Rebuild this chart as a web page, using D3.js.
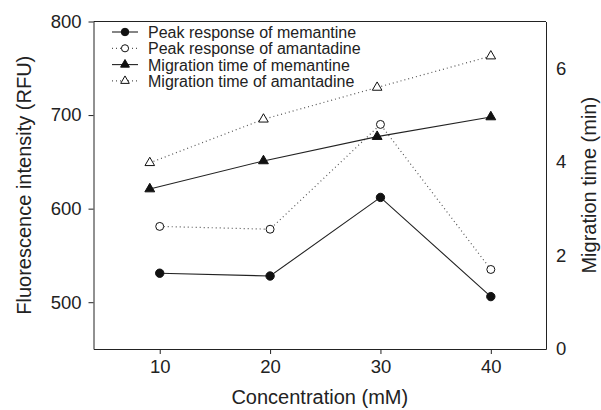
<!DOCTYPE html>
<html>
<head>
<meta charset="utf-8">
<script src="https://cdn.jsdelivr.net/npm/d3@7"></script>
<style>
  body { margin: 0; background: #fff; }
  svg text { font-family: "Liberation Sans", Arial, Helvetica, sans-serif; fill: #222; }
  .axis path, .axis line { stroke: #222; }
</style>
</head>
<body>
<script>
// concentrations (mM)
var conc = [10, 20, 30, 40];
// migration points sit a little left of the concentration ticks in the figure
var concMig = [9.1, 19.4, 29.7, 40];

var peakMemantine = [531, 528, 612, 506];   // RFU
var peakAmantadine = [581, 578, 690, 535];  // RFU
var migMemantine = [3.42, 4.02, 4.54, 4.96]; // min
var migAmantadine = [3.98, 4.91, 5.59, 6.26]; // min

var xTicks = [10, 20, 30, 40];
var yLeftTicks = [500, 600, 700, 800];
var yRightTicks = [0, 2, 4, 6];

var legendNames = [
    "Peak response of memantine",
    "Peak response of amantadine",
    "Migration time of memantine",
    "Migration time of amantadine"
];

var margin = {top: 21.5, right: 55, bottom: 61, left: 93.5};
var W = 601, H = 410;
var width = W - margin.left - margin.right;
var height = H - margin.top - margin.bottom;

var svg = d3.select("body").append("svg")
    .attr("width", W)
    .attr("height", H);

var g = svg.append("g")
    .attr("transform", "translate(" + margin.left + "," + margin.top + ")");

var x = d3.scaleLinear().domain([4, 45]).range([0, width]);
var yL = d3.scaleLinear().domain([450, 800]).range([height, 0]);
var yR = d3.scaleLinear().domain([0, 7]).range([height, 0]);

// axes
var xAxis = g.append("g").attr("class", "axis")
    .attr("transform", "translate(0," + height + ")")
    .call(d3.axisBottom(x).tickValues(xTicks).tickSize(5).tickPadding(6).tickSizeOuter(0));
xAxis.selectAll("text").style("font-size", "18.5px");

var yAxisL = g.append("g").attr("class", "axis")
    .call(d3.axisLeft(yL).tickValues(yLeftTicks).tickSize(5).tickPadding(7).tickSizeOuter(0));
yAxisL.selectAll("text").style("font-size", "18.5px");

var yAxisR = g.append("g").attr("class", "axis")
    .attr("transform", "translate(" + width + ",0)")
    .call(d3.axisRight(yR).tickValues(yRightTicks).tickFormat(d3.format("d"))
        .tickSize(0).tickPadding(10).tickSizeOuter(0));
yAxisR.selectAll("text").style("font-size", "18.5px");

// top border
g.append("line")
    .attr("x1", 0).attr("x2", width)
    .attr("y1", 0).attr("y2", 0)
    .attr("stroke", "#222");

// axis titles
svg.append("text")
    .attr("transform", "translate(31," + (margin.top + height / 2) + ") rotate(-90)")
    .attr("text-anchor", "middle")
    .style("font-size", "20px")
    .text("Fluorescence intensity (RFU)");

svg.append("text")
    .attr("transform", "translate(596," + (margin.top + height / 2) + ") rotate(-90)")
    .attr("text-anchor", "middle")
    .style("font-size", "20px")
    .text("Migration time (min)");

svg.append("text")
    .attr("x", margin.left + width / 2)
    .attr("y", 404)
    .attr("text-anchor", "middle")
    .style("font-size", "20px")
    .text("Concentration (mM)");

// series
var series = [
    {xs: conc, ys: peakMemantine, scale: yL, dash: null, shape: d3.symbolCircle, fill: "#111", size: 55},
    {xs: conc, ys: peakAmantadine, scale: yL, dash: "1,3", shape: d3.symbolCircle, fill: "#fff", size: 50},
    {xs: concMig, ys: migMemantine, scale: yR, dash: null, shape: d3.symbolTriangle, fill: "#111", size: 42},
    {xs: concMig, ys: migAmantadine, scale: yR, dash: "1,3", shape: d3.symbolTriangle, fill: "#fff", size: 40}
];

series.forEach(function(s, k) {
    var pts = s.xs.map(function(v, i) { return [x(v), s.scale(s.ys[i])]; });

    g.append("path")
        .datum(pts)
        .attr("fill", "none")
        .attr("stroke", s.dash ? "#555" : "#222")
        .attr("stroke-width", s.dash ? 1.2 : 1.1)
        .attr("stroke-dasharray", s.dash)
        .attr("d", d3.line());

    g.selectAll(".m" + k)
        .data(pts)
        .enter().append("path")
        .attr("class", "m" + k)
        .attr("transform", function(d) { return "translate(" + d[0] + "," + d[1] + ")"; })
        .attr("d", d3.symbol().type(s.shape).size(s.size))
        .attr("fill", s.fill)
        .attr("stroke", "#111")
        .attr("stroke-width", 1);
});

// legend
var legend = svg.append("g");
series.forEach(function(s, k) {
    var ly = 32 + k * 16.3;
    legend.append("line")
        .attr("x1", 112).attr("x2", 138)
        .attr("y1", ly).attr("y2", ly)
        .attr("stroke", s.dash ? "#555" : "#222")
        .attr("stroke-width", s.dash ? 1.2 : 1.1)
        .attr("stroke-dasharray", s.dash);
    legend.append("path")
        .attr("transform", "translate(125," + ly + ")")
        .attr("d", d3.symbol().type(s.shape).size(s.size * 0.8))
        .attr("fill", s.fill)
        .attr("stroke", "#111");
    legend.append("text")
        .attr("x", 148)
        .attr("y", ly + 6)
        .style("font-size", "16px")
        .text(legendNames[k]);
});
</script>
</body>
</html>
